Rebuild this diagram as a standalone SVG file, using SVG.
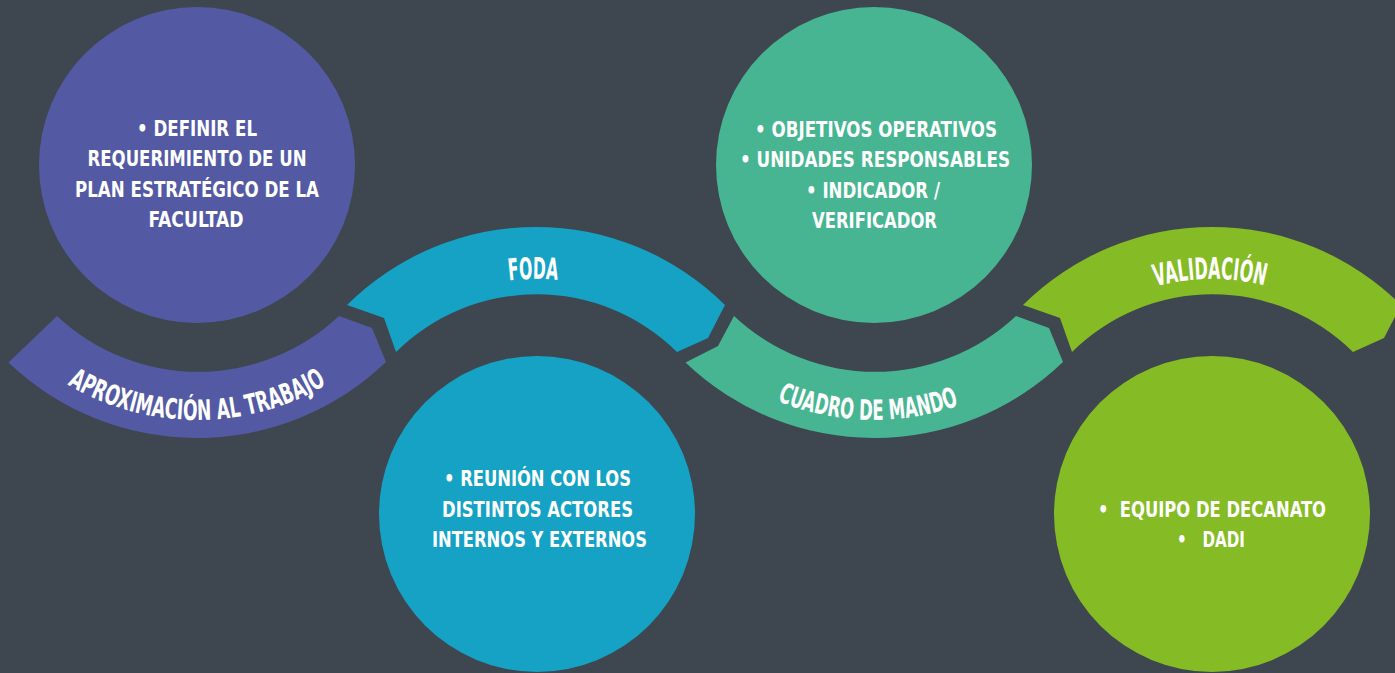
<svg xmlns="http://www.w3.org/2000/svg" width="1395" height="673" viewBox="0 0 1395 673">
<style>
.bg{fill:#3e4650}
.purple{fill:#535aa3}
.blue{fill:#15a2c4}
.teal{fill:#47b592}
.green{fill:#85bb25}
.t{font-family:"Liberation Sans Narrow","DejaVu Sans Condensed","Roboto",sans-serif;font-weight:bold;fill:#ffffff;text-anchor:middle;white-space:pre}
.c{font-size:21px}
.lbl{font-size:28px}
.lblU{font-size:30px}
</style>
<defs>
<path id="arcA" d="M -23.8 292.5 A 255 255 0 0 0 417.8 292.5"/>
<path id="arcC" d="M 653.2 292.5 A 255 255 0 0 0 1094.8 292.5"/>
<path id="arcF" d="M 348.9 387 A 216 216 0 0 1 723.1 387"/>
<path id="arcV" d="M 1024.9 387 A 216 216 0 0 1 1399.1 387"/>
</defs>
<rect class="bg" x="0" y="0" width="1395" height="673"/>

<g id="connectors">
<g id="band-aproximacion">
<path class="purple" d="M 8.5 362.5 A 273 273 0 0 0 386 362 L 372 328 L 339 316 A 206 206 0 0 1 57 316 Z"/>
<text class="t lbl"><textPath href="#arcA" startOffset="50%" textLength="272" lengthAdjust="spacingAndGlyphs">APROXIMACIÓN AL TRABAJO</textPath></text>
</g>
<g id="band-foda">
<path class="blue" d="M 347 305 A 268 268 0 0 1 725 305 L 708 338 L 677 352 A 200 200 0 0 0 396 352 L 384 318 Z"/>
<text class="t lblU"><textPath href="#arcF" startOffset="49.4%" textLength="49" lengthAdjust="spacingAndGlyphs">FODA</textPath></text>
</g>
<g id="band-cuadro">
<path class="teal" d="M 685.5 362.5 A 273 273 0 0 0 1063 362 L 1049 328 L 1016 316 A 206 206 0 0 1 734 316 L 718 346 Z"/>
<text class="t lbl"><textPath href="#arcC" startOffset="48.8%" textLength="186" lengthAdjust="spacingAndGlyphs">CUADRO DE MANDO</textPath></text>
</g>
<g id="band-validacion">
<path class="green" d="M 1023 305 A 268 268 0 0 1 1401 305 L 1384 338 L 1353 352 A 200 200 0 0 0 1072 352 L 1060 318 Z"/>
<text class="t lblU"><textPath href="#arcV" startOffset="49.6%" textLength="110" lengthAdjust="spacingAndGlyphs">VALIDACIÓN</textPath></text>
</g>
</g>

<g id="node-1">
<circle class="purple" cx="197" cy="165" r="158"/>
<text class="t c" x="197" y="136" textLength="120" lengthAdjust="spacingAndGlyphs">• DEFINIR EL</text>
<text class="t c" x="197" y="166" textLength="219" lengthAdjust="spacingAndGlyphs">REQUERIMIENTO DE UN</text>
<text class="t c" x="197" y="197" textLength="244" lengthAdjust="spacingAndGlyphs">PLAN ESTRATÉGICO DE LA</text>
<text class="t c" x="196" y="227" textLength="95" lengthAdjust="spacingAndGlyphs">FACULTAD</text>
</g>

<g id="node-2">
<circle class="blue" cx="537" cy="514" r="158"/>
<text class="t c" x="537.5" y="486" textLength="187" lengthAdjust="spacingAndGlyphs">• REUNIÓN CON LOS</text>
<text class="t c" x="537.5" y="517" textLength="191" lengthAdjust="spacingAndGlyphs">DISTINTOS ACTORES</text>
<text class="t c" x="539.5" y="547" textLength="215" lengthAdjust="spacingAndGlyphs">INTERNOS Y EXTERNOS</text>
</g>

<g id="node-3">
<circle class="teal" cx="874" cy="165" r="158"/>
<text class="t c" x="876" y="137" textLength="242" lengthAdjust="spacingAndGlyphs">• OBJETIVOS OPERATIVOS</text>
<text class="t c" x="875" y="167" textLength="270" lengthAdjust="spacingAndGlyphs">• UNIDADES RESPONSABLES</text>
<text class="t c" x="873" y="198" textLength="134" lengthAdjust="spacingAndGlyphs">• INDICADOR /</text>
<text class="t c" x="874.5" y="228" textLength="125" lengthAdjust="spacingAndGlyphs">VERIFICADOR</text>
</g>

<g id="node-4">
<circle class="green" cx="1212" cy="514" r="158"/>
<text class="t c" x="1212" y="517" textLength="228" lengthAdjust="spacingAndGlyphs">•  EQUIPO DE DECANATO</text>
<text class="t c" x="1211" y="547" textLength="68" lengthAdjust="spacingAndGlyphs">•   DADI</text>
</g>
</svg>
